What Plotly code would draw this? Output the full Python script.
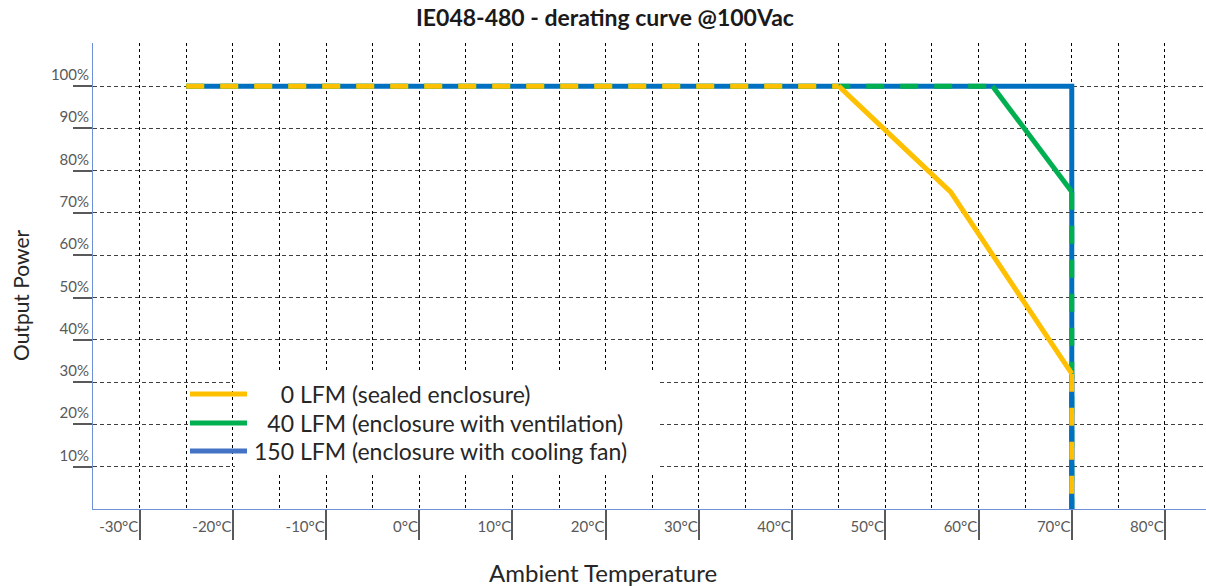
import plotly.graph_objects as go

# ---------------- data ----------------
temps_0lfm = [-25, 45, 57, 70, 70]
power_0lfm = [100, 100, 75, 32, 0]

temps_40lfm = [-25, 61.5, 70, 70]
power_40lfm = [100, 100, 75, 0]

temps_150lfm = [-25, 70, 70]
power_150lfm = [100, 100, 0]

series_names = [
    "\u2007\u20070 LFM (sealed enclosure)",
    "\u200740 LFM (enclosure with ventilation)",
    "150 LFM (enclosure with cooling fan)",
]
x_tick_vals = [-30, -20, -10, 0, 10, 20, 30, 40, 50, 60, 70, 80]
x_tick_text = ["-30°C", "-20°C", "-10°C", "0°C", "10°C", "20°C", "30°C",
               "40°C", "50°C", "60°C", "70°C", "80°C"]
y_tick_vals = [10, 20, 30, 40, 50, 60, 70, 80, 90, 100]
y_tick_text = ["10%", "20%", "30%", "40%", "50%", "60%", "70%", "80%", "90%", "100%"]

title_text = "IE048-480 - derating curve @100Vac"
x_title = "Ambient Temperature"
y_title = "Output Power"

# ---------------- style ----------------
W, H = 1206, 586
L, R, T, B = 93, 0, 43, 77
PW, PH = W - L - R, H - T - B
FONT = "Lato"
YEL, GRN, BLU = "#FFC000", "#00B050", "#0070C0"
LEG_COLORS = ["#FFC000", "#00B050", "#4472C4"]
LW = 5
DASH = "18px,16px"


def px(xp):
    return (xp - L) / PW


def py(yp):
    return (H - B - yp) / PH


fig = go.Figure()


def add(x, y, color, dash="solid"):
    fig.add_trace(go.Scatter(x=x, y=y, mode="lines", showlegend=False,
                             hoverinfo="skip",
                             line=dict(color=color, width=LW, dash=dash)))


# blue (150 LFM)
add(temps_150lfm, power_150lfm, BLU)
# green (40 LFM)
add(temps_40lfm[:2], power_40lfm[:2], GRN, DASH)
add(temps_40lfm[1:3], power_40lfm[1:3], GRN)
add(temps_40lfm[2:], power_40lfm[2:], GRN, DASH)
# blue again on lower vertical part (under yellow dashes)
add([temps_150lfm[-1], temps_150lfm[-1]], [power_0lfm[-2], power_150lfm[-1]], BLU)
# yellow (0 LFM)
add(temps_0lfm[:2], power_0lfm[:2], YEL, DASH)
add(temps_0lfm[1:4], power_0lfm[1:4], YEL)
add(temps_0lfm[3:], power_0lfm[3:], YEL, DASH)

shapes = [
    dict(type="rect", xref="paper", yref="paper", layer="above",
         x0=px(235), x1=px(660), y0=py(475), y1=py(373),
         fillcolor="white", line=dict(width=0)),
]
annotations = []
leg_y = [394, 423, 451]
for name, col, yy in zip(series_names, LEG_COLORS, leg_y):
    shapes.append(dict(type="line", xref="paper", yref="paper", layer="above",
                       x0=px(190), x1=px(247), y0=py(yy), y1=py(yy),
                       line=dict(color=col, width=5)))
    annotations.append(dict(text=name, xref="paper", yref="paper",
                            x=px(252), y=py(yy), xanchor="left", yanchor="middle",
                            showarrow=False,
                            font=dict(family=FONT, size=23, color="#262626")))

annotations.append(dict(text=y_title, xref="paper", yref="paper",
                        x=px(20), y=py(295), xanchor="center", yanchor="middle",
                        textangle=-90, showarrow=False,
                        font=dict(family=FONT, size=21, color="#262626")))
annotations.append(dict(text=x_title, xref="paper", yref="paper",
                        x=px(603), y=py(572), xanchor="center", yanchor="middle",
                        showarrow=False,
                        font=dict(family=FONT, size=24, color="#262626")))

fig.update_layout(
    width=W, height=H,
    margin=dict(l=L, r=R, t=T, b=B, pad=0),
    paper_bgcolor="white", plot_bgcolor="white",
    font=dict(family=FONT, color="#595959"),
    title=dict(text="<b>" + title_text + "</b>", x=605 / W, xanchor="center",
               xref="container", yref="container", y=1 - 18 / H, yanchor="middle",
               font=dict(family=FONT, size=23, color="#1a1a1a")),
    shapes=shapes, annotations=annotations,
    showlegend=False,
)

fig.update_xaxes(
    range=[-35, 84.4], tickmode="array", tickvals=x_tick_vals, ticktext=x_tick_text,
    ticks="outside", ticklen=30, tickcolor="#595959", tickwidth=1.5,
    ticklabelposition="outside left", ticklabelstandoff=4,
    tickfont=dict(family=FONT, size=15, color="#595959"),
    showgrid=True, gridcolor="#000000", griddash="3px,3px", gridwidth=1,
    minor=dict(tickmode="linear", tick0=-30, dtick=5, showgrid=True,
               gridcolor="#000000", griddash="3px,3px", gridwidth=1, ticks=""),
    showline=True, linecolor="#6F8FD8", linewidth=1, zeroline=False,
)
fig.update_yaxes(
    range=[0, 110.2], tickmode="array", tickvals=y_tick_vals, ticktext=y_tick_text,
    ticks="outside", ticklen=19, tickcolor="#595959", tickwidth=1.5,
    ticklabelposition="outside top",
    tickfont=dict(family=FONT, size=15, color="#595959"),
    showgrid=True, gridcolor="#404040", griddash="4px,3px", gridwidth=1,
    showline=True, linecolor="#6F8FD8", linewidth=1, zeroline=False,
)

fig.write_html("out.html", config={"displayModeBar": False},
               post_script="document.body.style.margin='0';document.body.style.padding='0';")
